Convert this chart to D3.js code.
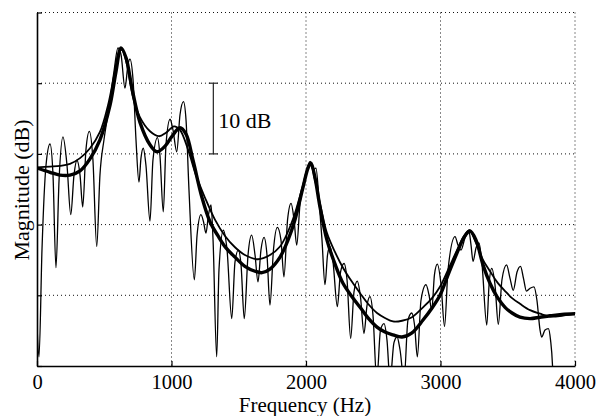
<!DOCTYPE html>
<html><head><meta charset="utf-8">
<script src="https://cdn.jsdelivr.net/npm/d3@7"></script>
<style>body{margin:0;background:#fff} svg{display:block}</style>
</head><body><div id="chart"></div>
<script>
const xTicks = [0, 1000, 2000, 3000, 4000];
const yGridLevels = [0, 10, 20, 30, 40, 50];
const xLabel = "Frequency (Hz)";
const yLabel = "Magnitude (dB)";
const scaleBarText = "10 dB";
const scaleBarFreq = 1311;
const scaleBarRange = [30, 40];

// short-time spectrum (thin oscillating trace) [Hz, dB]
const spectrum = [
[0,5.8],[15,1.3],[37,16.4],[67,28.4],[97,31.4],[119,27.0],[141,13.9],[164,26.3],[193,32.4],[223,28.4],
[251,21.4],[275,27.0],[297,29.1],[320,27.0],[340,22.5],[364,30.6],[389,33.2],[416,29.1],[444,16.9],[468,27.0],
[498,32.0],[535,36.5],[572,41.6],[602,45.0],[625,44.0],[654,39.3],[677,42.7],[691,43.4],[714,40.5],[736,32.0],
[758,26.0],[773,29.4],[790,30.8],[810,28.4],[840,20.5],[862,29.1],[896,32.3],[914,29.8],[939,21.8],[959,31.3],
[989,34.9],[1011,33.4],[1039,30.3],[1063,35.5],[1089,37.4],[1108,34.8],[1130,24.9],[1170,12.2],[1190,18.5],[1219,21.4],
[1238,20.4],[1256,18.8],[1275,21.4],[1294,22.8],[1309,17.8],[1336,1.3],[1353,13.6],[1385,19.2],[1413,16.4],[1448,6.7],
[1472,14.7],[1497,16.4],[1517,14.3],[1541,6.7],[1569,15.7],[1596,18.5],[1621,15.7],[1643,11.9],[1665,16.4],[1688,18.2],
[1710,15.7],[1732,8.6],[1758,16.4],[1787,19.6],[1814,17.8],[1836,12.6],[1863,20.7],[1889,23.0],[1911,20.7],[1931,17.1],
[1955,22.8],[1993,26.6],[2030,28.7],[2052,27.7],[2074,28.0],[2097,23.5],[2119,17.8],[2141,11.5],[2160,15.7],[2178,16.9],
[2201,14.7],[2233,8.4],[2257,13.3],[2283,14.5],[2305,12.2],[2332,3.9],[2357,10.5],[2381,12.0],[2405,9.8],[2431,4.6],
[2454,8.6],[2476,9.8],[2498,7.2],[2526,-2.0],[2554,5.1],[2580,6.0],[2602,3.7],[2625,-2.0],[2654,3.3],[2677,4.1],
[2699,2.3],[2729,-2.0],[2758,6.5],[2786,7.5],[2807,5.8],[2828,1.3],[2855,9.3],[2892,11.5],[2915,10.0],[2935,7.9],
[2955,12.9],[2976,14.4],[3004,11.5],[3030,5.6],[3056,13.6],[3108,18.3],[3130,17.1],[3152,16.4],[3182,18.1],[3212,19.0],
[3227,17.1],[3242,14.8],[3264,16.7],[3286,17.4],[3309,14.3],[3344,5.8],[3361,11.5],[3381,13.8],[3405,11.5],[3430,5.9],
[3457,12.2],[3491,14.3],[3517,12.4],[3541,10.7],[3569,13.3],[3595,14.1],[3617,12.4],[3639,10.6],[3666,11.0],[3695,11.2],
[3717,9.3],[3740,5.1],[3752,4.1],[3777,5.1],[3802,5.3],[3818,3.7],[3833,0],[3837,-2.0]
];

// thin smooth envelope [Hz, dB]
const envelopeThin = [
[0,28.1],[97,28.2],[171,28.3],[245,28.6],[320,29.4],[394,30.8],[468,33.1],[528,36.9],[572,41.0],[610,44.4],
[632,44.7],[669,42.6],[714,38.0],[765,35.2],[840,33.2],[907,32.5],[959,33.0],[1019,33.9],[1063,33.4],[1123,30.6],
[1182,27.0],[1249,23.8],[1323,20.7],[1398,18.4],[1472,16.8],[1546,15.7],[1643,15.1],[1732,15.7],[1807,16.9],[1866,19.0],
[1918,21.6],[1978,25.6],[2030,28.9],[2067,26.3],[2112,22.3],[2156,18.8],[2216,16.1],[2275,13.9],[2342,11.9],[2402,10.3],
[2461,8.8],[2528,7.5],[2587,6.8],[2647,6.3],[2714,6.4],[2788,6.9],[2870,8.3],[2937,9.6],[2996,11.2],[3056,13.6],
[3123,16.4],[3175,18.4],[3216,19.2],[3264,17.4],[3316,15.0],[3368,13.4],[3420,11.9],[3480,10.6],[3532,9.6],[3591,8.8],
[3666,7.9],[3740,7.4],[3814,7.0],[3903,7.1],[4000,7.4]
];

// thick smooth envelope [Hz, dB]
const envelopeThick = [
[0,28.0],[97,27.4],[171,27.0],[245,27.0],[320,27.6],[394,29.3],[468,32.0],[543,36.9],[587,41.6],[625,45.0],
[662,43.6],[706,39.3],[765,34.5],[840,31.3],[892,30.3],[952,31.1],[1004,32.5],[1063,33.7],[1108,32.8],[1160,29.1],
[1227,23.8],[1286,20.4],[1346,18.4],[1405,16.7],[1472,15.4],[1546,14.1],[1621,13.4],[1673,13.2],[1732,13.7],[1807,15.4],
[1866,17.8],[1918,20.7],[1978,25.3],[2015,28.0],[2037,28.7],[2067,26.6],[2104,22.5],[2156,17.8],[2216,14.4],[2275,11.7],
[2342,9.8],[2402,8.3],[2461,6.8],[2528,5.5],[2587,4.8],[2647,4.4],[2714,4.1],[2788,4.7],[2870,6.5],[2937,8.2],
[2996,10.0],[3056,12.9],[3123,16.0],[3175,18.2],[3219,19.1],[3264,17.8],[3316,14.3],[3368,11.7],[3420,9.8],[3480,8.3],
[3532,7.5],[3591,6.9],[3666,6.7],[3740,6.9],[3814,7.1],[3903,7.3],[4000,7.4]
];

const W = 601, H = 416;
const mLeft = 37, mRight = 575, mTop = 12.5, mBottom = 366;
const FONT = "'Liberation Serif','Times New Roman',serif";

const svg = d3.select("#chart").append("svg").attr("width", W).attr("height", H);
const x = d3.scaleLinear().domain([0, 4000]).range([mLeft, mRight]);
const y = d3.scaleLinear().domain([0, 50]).range([mBottom, mTop]);

svg.append("defs").append("clipPath").attr("id", "plotclip")
  .append("rect").attr("x", mLeft).attr("y", mTop).attr("width", mRight - mLeft).attr("height", mBottom - mTop);

// dotted grid
const grid = svg.append("g").attr("stroke", "#111").attr("stroke-width", 1).attr("stroke-dasharray", "1,3").attr("fill", "none");
grid.selectAll("line.h").data(yGridLevels.filter(d => d > 0)).join("line")
  .attr("x1", mLeft).attr("x2", mRight).attr("y1", d => y(d)).attr("y2", d => y(d));
grid.selectAll("line.v").data(xTicks.filter(d => d > 0)).join("line")
  .attr("x1", d => x(d)).attr("x2", d => x(d)).attr("y1", mTop).attr("y2", mBottom);

// curves
const plot = svg.append("g").attr("clip-path", "url(#plotclip)").attr("fill", "none").attr("stroke", "#000")
  .attr("stroke-linejoin", "round").attr("stroke-linecap", "round");
const lineMono = d3.line().x(d => x(d[0])).y(d => y(d[1])).curve(d3.curveMonotoneX);
const lineSmooth = d3.line().x(d => x(d[0])).y(d => y(d[1])).curve(d3.curveCatmullRom.alpha(0.5));
plot.append("path").datum(spectrum).attr("d", lineMono).attr("stroke-width", 1.3);
plot.append("path").datum(envelopeThin).attr("d", lineSmooth).attr("stroke-width", 1.8);
plot.append("path").datum(envelopeThick).attr("d", lineSmooth).attr("stroke-width", 3.4);

// axes
const xAxis = d3.axisBottom(x).tickValues(xTicks).tickFormat(d3.format("d")).tickSize(-5).tickPadding(10).tickSizeOuter(0);
const gx = svg.append("g").attr("transform", `translate(0,${mBottom})`).call(xAxis);
gx.select(".domain").attr("stroke", "#000").attr("stroke-width", 1.6);
gx.selectAll(".tick line").attr("stroke", "#000").attr("stroke-width", 1.2);
gx.selectAll(".tick text").attr("font-family", FONT).attr("font-size", 20.5).attr("fill", "#000").attr("dy", "0.62em");

const yAxis = d3.axisLeft(y).tickValues(yGridLevels).tickSize(-5).tickFormat("").tickSizeOuter(0);
const gy = svg.append("g").attr("transform", `translate(${mLeft},0)`).call(yAxis);
gy.select(".domain").attr("stroke", "#000").attr("stroke-width", 1.6);
gy.selectAll(".tick line").attr("stroke", "#000").attr("stroke-width", 1.2);

// labels
svg.append("text").attr("x", 305).attr("y", 411.5).attr("text-anchor", "middle")
  .attr("font-family", FONT).attr("font-size", 21).text(xLabel);
svg.append("text").attr("transform", "translate(29,190) rotate(-90)").attr("text-anchor", "middle")
  .attr("font-family", FONT).attr("font-size", 22).text(yLabel);

// 10 dB scale bar
const sb = svg.append("g").attr("stroke", "#222").attr("stroke-width", 1.2);
const sx = x(scaleBarFreq);
sb.append("line").attr("x1", sx).attr("x2", sx).attr("y1", y(scaleBarRange[0])).attr("y2", y(scaleBarRange[1]));
sb.selectAll("line.cap").data(scaleBarRange).join("line")
  .attr("x1", sx - 4.5).attr("x2", sx + 4.5).attr("y1", d => y(d)).attr("y2", d => y(d));
svg.append("text").attr("x", sx + 5).attr("y", 127.5).attr("font-family", FONT).attr("font-size", 22).text(scaleBarText);
</script>
</body></html>
